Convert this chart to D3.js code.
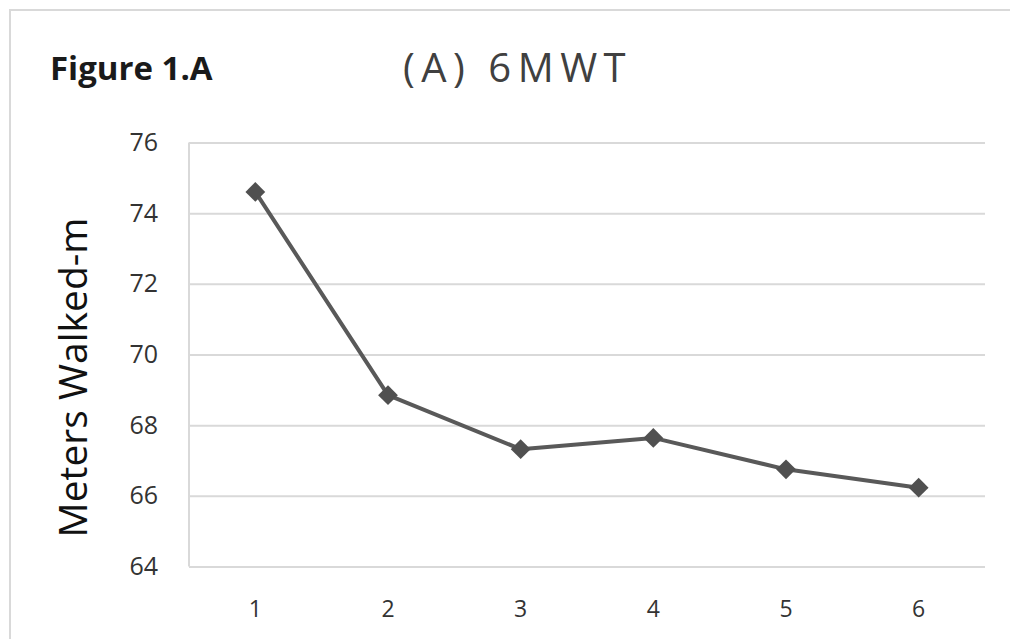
<!DOCTYPE html>
<html>
<head>
<meta charset="utf-8">
<script src="https://cdn.jsdelivr.net/npm/d3@7"></script>
<style>
  html, body { margin: 0; padding: 0; background: #fff; }
  svg { display: block; }
</style>
</head>
<body>
<svg id="chart" width="1010" height="639"></svg>
<script>
// ---- data ----
const categories = ["1", "2", "3", "4", "5", "6"];
const values = [74.6, 68.85, 67.32, 67.64, 66.75, 66.23];
const yTicks = [64, 66, 68, 70, 72, 74, 76];
const chartTitle = "(A) 6MWT";
const figureLabel = "Figure 1.A";
const yAxisTitle = "Meters Walked-m";

const svg = d3.select("#chart");
const W = 1010, H = 639;
const margin = { left: 189, right: 25, top: 142.5, bottom: 72.5 };

svg.append("rect").attr("width", W).attr("height", H).attr("fill", "#fff");

// outer chart border (cropped at right/bottom)
svg.append("rect")
  .attr("x", 10).attr("y", 10)
  .attr("width", W + 20).attr("height", H + 20)
  .attr("fill", "none").attr("stroke", "#d9d9d9").attr("stroke-width", 2);

const x = d3.scaleBand().domain(categories)
  .range([margin.left, W - margin.right]).padding(0);
const y = d3.scaleLinear().domain([64, 76])
  .range([H - margin.bottom, margin.top]);

// gridlines
const grid = svg.append("g")
  .attr("transform", `translate(${margin.left},0)`)
  .call(d3.axisLeft(y).tickValues(yTicks)
    .tickSize(-(W - margin.right - margin.left)).tickFormat(""));
grid.select(".domain").remove();
grid.selectAll(".tick line").attr("stroke", "#d9d9d9").attr("stroke-width", 2);

// left axis line
svg.append("line")
  .attr("x1", margin.left).attr("x2", margin.left)
  .attr("y1", y(76)).attr("y2", y(64))
  .attr("stroke", "#d9d9d9").attr("stroke-width", 2);

// y tick labels
const yAxis = svg.append("g")
  .attr("transform", `translate(${margin.left - 31},0)`)
  .call(d3.axisLeft(y).tickValues(yTicks).tickSize(0).tickPadding(0).tickFormat(d3.format("d")));
yAxis.select(".domain").remove();
yAxis.selectAll("text")
  .attr("font-family", "'Open Sans', sans-serif")
  .attr("font-size", 25).attr("fill", "#333333");

// x tick labels
const xAxis = svg.append("g")
  .attr("transform", `translate(0,${y(64)})`)
  .call(d3.axisBottom(x).tickSize(0).tickPadding(0));
xAxis.select(".domain").remove();
xAxis.selectAll("text")
  .attr("dy", 0).attr("y", 50)
  .attr("font-family", "'Open Sans', sans-serif")
  .attr("font-size", 23).attr("fill", "#333333");

// line
const cx = d => x(d.c) + x.bandwidth() / 2;
const pts = categories.map((c, i) => ({ c, v: values[i] }));
svg.append("path")
  .datum(pts)
  .attr("fill", "none").attr("stroke", "#595959").attr("stroke-width", 4)
  .attr("stroke-linejoin", "round")
  .attr("d", d3.line().x(cx).y(d => y(d.v)));

// diamond markers
svg.append("g").selectAll("path")
  .data(pts).join("path")
  .attr("transform", d => `translate(${cx(d)},${y(d.v)})`)
  .attr("d", d3.symbol().type(d3.symbolDiamond2).size(250))
  .attr("fill", "#505050");

// titles
svg.append("text")
  .attr("x", 50).attr("y", 80)
  .attr("font-family", "'Open Sans', sans-serif")
  .attr("font-weight", 700).attr("font-size", 33)
  .attr("fill", "#1a1a1a")
  .text(figureLabel);

svg.append("text")
  .attr("x", 403).attr("y", 82)
  .attr("font-family", "'Open Sans', sans-serif")
  .attr("font-size", 40).attr("letter-spacing", 6.5)
  .attr("fill", "#404040")
  .text(chartTitle);

svg.append("text")
  .attr("transform", `translate(87,${(y(76) + y(64)) / 2 + 23}) rotate(-90)`)
  .attr("text-anchor", "middle")
  .attr("font-family", "'Open Sans', sans-serif")
  .attr("font-size", 39).attr("fill", "#111")
  .text(yAxisTitle);
</script>
</body>
</html>
